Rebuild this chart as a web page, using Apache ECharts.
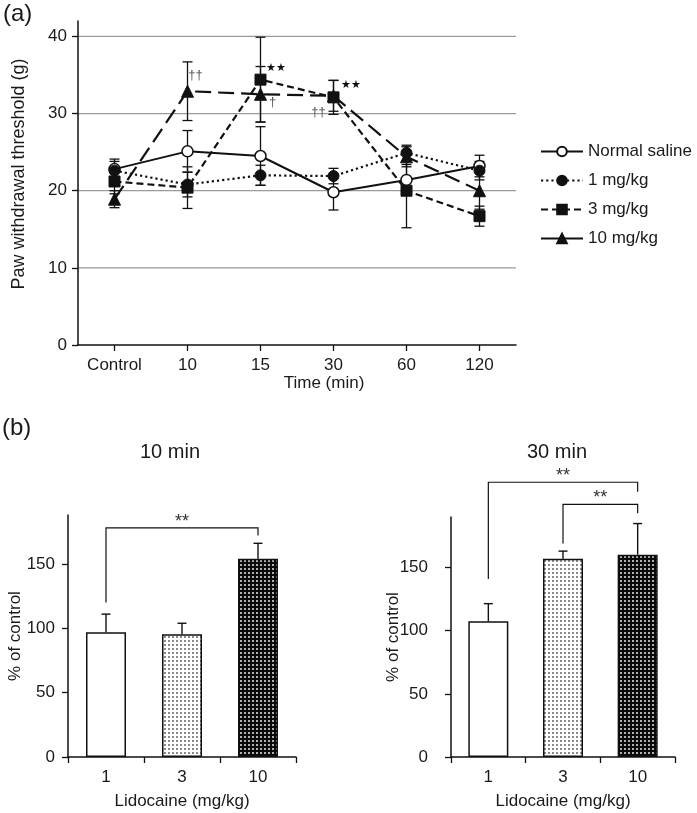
<!DOCTYPE html>
<html><head><meta charset="utf-8">
<script src="https://cdn.jsdelivr.net/npm/echarts@6/dist/echarts.min.js"></script>
<style>html,body{margin:0;padding:0;background:#fff}#c{width:697px;height:813px}</style>
</head><body><div id="c"></div>
<script>
// ---------- data (a) ----------
const timeCats = ['Control','10','15','30','60','120'];
const salineMean = [22.8, 25.1, 24.5, 19.8, 21.4, 23.2];
const salineErr  = [1.3, 2.7, 3.8, 2.3, 2.0, 1.4];
const mg1Mean = [22.6, 20.8, 22.0, 21.9, 24.9, 22.6];
const mg1Err  = [1.2, 1.6, 1.3, 1.0, 1.0, 1.2];
const mg3Mean = [21.2, 20.4, 34.4, 32.1, 20.0, 16.7];
const mg3Err  = [1.6, 2.7, 5.5, 2.2, 4.8, 1.3];
const mg10Mean = [18.9, 32.9, 32.5, 32.3, 24.4, 20.0];
const mg10Err  = [1.1, 3.8, 3.6, 2.0, 1.3, 2.4];
const yTicksA = [0, 10, 20, 30, 40];
const annotCats = ['10', '15', '15', '30', '30'];
const annotVals = [35.0, 35.9, 31.5, 30.2, 33.7];
const annotTexts = ['††', '★★', '†', '††', '★★'];

// ---------- data (b) ----------
const doseCats = ['1', '3', '10'];
const pct10Mean = [97, 95.3, 154];
const pct10Err  = [14, 8.6, 12];
const pct30Mean = [107.4, 157, 160.2];
const pct30Err  = [14, 6, 24.6];
const yTicksB = [0, 50, 100, 150];
// brackets: [fromIdx, toIdx, topValue, leftEndValue, rightEndValue]
const brackets10 = [[0, 2, 178, 120, 172]];
const brackets30 = [[0, 2, 217.5, 141, 210], [1, 2, 200, 169, 193]];

// ---------- styling helpers ----------
const FONT = 'Liberation Sans, Arial, sans-serif';
const TXT = '#1a1a1a';
function pattern(bg, dot) {
  const c = document.createElement('canvas'); c.width = 4; c.height = 4;
  const g = c.getContext('2d');
  g.fillStyle = bg; g.fillRect(0, 0, 4, 4);
  g.fillStyle = dot; g.fillRect(0, 0, 2, 2);
  return c;
}
const lightPat = { image: pattern('#ffffff', '#8a8a8a'), repeat: 'repeat' };
const darkPat = { image: pattern('#0a0a0a', '#b0b0b0'), repeat: 'repeat' };
const annotDx = [8, 15, 12, -15, 17];

const chart = echarts.init(document.getElementById('c'), null, { renderer: 'canvas' });

function errSeries(means, errs) {
  return {
    type: 'custom', xAxisIndex: 0, yAxisIndex: 0, z: 1, silent: true,
    data: means.map((m, i) => [i, m, errs[i]]),
    renderItem: function (params, api) {
      const x = api.value(0), m = api.value(1), e = api.value(2);
      const top = api.coord([x, m + e]), bot = api.coord([x, m - e]);
      const w = 5;
      return { type: 'group', children: [
        { type: 'line', shape: { x1: top[0], y1: top[1], x2: bot[0], y2: bot[1] }, style: { stroke: '#111', lineWidth: 1.3 } },
        { type: 'line', shape: { x1: top[0] - w, y1: top[1], x2: top[0] + w, y2: top[1] }, style: { stroke: '#111', lineWidth: 1.3 } },
        { type: 'line', shape: { x1: bot[0] - w, y1: bot[1], x2: bot[0] + w, y2: bot[1] }, style: { stroke: '#111', lineWidth: 1.3 } }
      ]};
    }
  };
}
function barErrSeries(gi, means, errs) {
  return {
    type: 'custom', xAxisIndex: gi, yAxisIndex: gi, z: 4, silent: true,
    data: means.map((m, i) => [i, m, errs[i]]),
    renderItem: function (params, api) {
      const x = api.value(0), m = api.value(1), e = api.value(2);
      const a = api.coord([x, m]), b = api.coord([x, m + e]);
      return { type: 'group', children: [
        { type: 'line', shape: { x1: a[0], y1: a[1], x2: b[0], y2: b[1] }, style: { stroke: '#111', lineWidth: 1.4 } },
        { type: 'line', shape: { x1: b[0] - 4.5, y1: b[1], x2: b[0] + 4.5, y2: b[1] }, style: { stroke: '#111', lineWidth: 1.4 } }
      ]};
    }
  };
}
function bracketSeries(gi, rows) {
  return {
    type: 'custom', xAxisIndex: gi, yAxisIndex: gi, z: 5, silent: true, clip: false,
    data: rows,
    renderItem: function (params, api) {
      const f = api.value(0), t = api.value(1), top = api.value(2), l = api.value(3), r = api.value(4);
      const p1 = api.coord([f, l]), p2 = api.coord([f, top]), p3 = api.coord([t, top]), p4 = api.coord([t, r]);
      return { type: 'group', children: [
        { type: 'polyline', shape: { points: [p1, p2, p3, p4] }, style: { stroke: '#111', lineWidth: 1.2, fill: null } },
        { type: 'text', x: (p2[0] + p3[0]) / 2, y: p2[1] - 6, style: { text: '**', fontSize: 18, fontFamily: FONT, fill: '#333', align: 'center', verticalAlign: 'middle' } }
      ]};
    }
  };
}
function barSeries(gi, means) {
  const fills = ['#ffffff', lightPat, darkPat];
  return {
    type: 'bar', xAxisIndex: gi, yAxisIndex: gi, barWidth: 40, z: 3, silent: true,
    data: means.map((m, i) => ({ value: m, itemStyle: { color: fills[i], borderColor: '#111', borderWidth: 1.5 } }))
  };
}
const axisLineStyle = { show: true, lineStyle: { color: '#111', width: 1.5 } };

const option = {
  animation: false,
  backgroundColor: '#fff',
  textStyle: { fontFamily: FONT, color: TXT },
  grid: [
    { left: 78, top: 21, width: 438, height: 324 },
    { left: 68, top: 515, width: 228, height: 242 },
    { left: 451, top: 517, width: 224, height: 240 }
  ],
  legend: {
    data: [
      { name: 'Normal saline' },
      { name: '1 mg/kg' },
      { name: '3 mg/kg' },
      { name: '10 mg/kg', lineStyle: { type: 'solid' } }
    ],
    orient: 'vertical', left: 540, top: 143, itemWidth: 42, itemHeight: 12, itemGap: 12,
    textStyle: { fontSize: 17, color: TXT, fontFamily: FONT }, padding: 0, selectedMode: false
  },
  xAxis: [
    { gridIndex: 0, type: 'category', data: timeCats, boundaryGap: true,
      axisLine: axisLineStyle, axisTick: { show: true, alignWithLabel: true, length: 6, lineStyle: { color: '#111', width: 1.3 } },
      axisLabel: { fontSize: 17, color: TXT, margin: 12 }, splitLine: { show: false } },
    { gridIndex: 1, type: 'category', data: doseCats, boundaryGap: true,
      axisLine: axisLineStyle, axisTick: { show: true, length: 6, lineStyle: { color: '#111', width: 1.3 } },
      axisLabel: { fontSize: 17, color: TXT, margin: 12 },
      name: 'Lidocaine (mg/kg)', nameLocation: 'middle', nameGap: 36, nameTextStyle: { fontSize: 17, color: TXT } },
    { gridIndex: 2, type: 'category', data: doseCats, boundaryGap: true,
      axisLine: axisLineStyle, axisTick: { show: true, length: 6, lineStyle: { color: '#111', width: 1.3 } },
      axisLabel: { fontSize: 17, color: TXT, margin: 12 },
      name: 'Lidocaine (mg/kg)', nameLocation: 'middle', nameGap: 36, nameTextStyle: { fontSize: 17, color: TXT } }
  ],
  yAxis: [
    { gridIndex: 0, type: 'value', min: 0, max: 42,
      axisLine: axisLineStyle, axisTick: { show: true, length: 6, customValues: yTicksA, lineStyle: { color: '#111', width: 1.3 } },
      axisLabel: { fontSize: 17, color: TXT, margin: 11, customValues: yTicksA }, splitLine: { show: false },
      name: 'Paw withdrawal threshold (g)', nameLocation: 'middle', nameGap: 50, nameTextStyle: { fontSize: 18, color: TXT, padding: [0, 0, 0, 18] } },
    { gridIndex: 1, type: 'value', min: 0, max: 188,
      axisLine: axisLineStyle, axisTick: { show: true, length: 6, customValues: yTicksB, lineStyle: { color: '#111', width: 1.3 } },
      axisLabel: { fontSize: 17, color: TXT, margin: 13, customValues: yTicksB }, splitLine: { show: false },
      name: '% of control', nameLocation: 'middle', nameGap: 44, nameMoveOverlap: false, nameTextStyle: { fontSize: 17, color: TXT } },
    { gridIndex: 2, type: 'value', min: 0, max: 190,
      axisLine: axisLineStyle, axisTick: { show: true, length: 6, customValues: yTicksB, lineStyle: { color: '#111', width: 1.3 } },
      axisLabel: { fontSize: 17, color: TXT, margin: 23, customValues: yTicksB }, splitLine: { show: false },
      name: '% of control', nameLocation: 'middle', nameGap: 49, nameMoveOverlap: false, nameTextStyle: { fontSize: 17, color: TXT } }
  ],
  graphic: [
    { type: 'text', left: 3, top: 2, style: { text: '(a)', fontSize: 24, fontFamily: FONT, fill: TXT } },
    { type: 'text', left: 2, top: 416, style: { text: '(b)', fontSize: 24, fontFamily: FONT, fill: TXT } },
    { type: 'text', x: 170, y: 452, style: { text: '10 min', fontSize: 20, fontFamily: FONT, fill: TXT, align: 'center', verticalAlign: 'middle' } },
    { type: 'text', x: 557, y: 452, style: { text: '30 min', fontSize: 20, fontFamily: FONT, fill: TXT, align: 'center', verticalAlign: 'middle' } },
    { type: 'text', x: 324, y: 383, style: { text: 'Time (min)', fontSize: 17, fontFamily: FONT, fill: TXT, align: 'center', verticalAlign: 'middle' } }
  ],
  series: [
    // gridlines for (a)
    { type: 'custom', xAxisIndex: 0, yAxisIndex: 0, z: 0, silent: true,
      data: yTicksA.filter(v => v > 0).map(v => [0, v]),
      renderItem: function (params, api) {
        const cs = params.coordSys; const p = api.coord([0, api.value(1)]);
        return { type: 'line', shape: { x1: cs.x, y1: p[1], x2: cs.x + cs.width, y2: p[1] }, style: { stroke: '#9a9a9a', lineWidth: 1.3 } };
      } },
    errSeries(salineMean, salineErr),
    errSeries(mg1Mean, mg1Err),
    errSeries(mg3Mean, mg3Err),
    errSeries(mg10Mean, mg10Err),
    { name: 'Normal saline', type: 'line', xAxisIndex: 0, yAxisIndex: 0, data: salineMean, z: 3,
      symbol: 'circle', symbolSize: 11, itemStyle: { color: '#fff', borderColor: '#111', borderWidth: 1.5 },
      lineStyle: { color: '#111', width: 2, type: 'solid' } },
    { name: '1 mg/kg', type: 'line', xAxisIndex: 0, yAxisIndex: 0, data: mg1Mean, z: 3,
      symbol: 'circle', symbolSize: 11, itemStyle: { color: '#111', borderColor: '#111', borderWidth: 1 },
      lineStyle: { color: '#111', width: 2.2, type: [2.2, 3] } },
    { name: '3 mg/kg', type: 'line', xAxisIndex: 0, yAxisIndex: 0, data: mg3Mean, z: 3,
      symbol: 'rect', symbolSize: 11, itemStyle: { color: '#111', borderColor: '#111', borderWidth: 1 },
      lineStyle: { color: '#111', width: 2.2, type: [7, 4] } },
    { name: '10 mg/kg', type: 'line', xAxisIndex: 0, yAxisIndex: 0, data: mg10Mean, z: 3,
      symbol: 'triangle', symbolSize: 12, itemStyle: { color: '#111', borderColor: '#111', borderWidth: 1 },
      lineStyle: { color: '#111', width: 2.2, type: [16, 7] } },
    // annotations (a)
    { type: 'custom', xAxisIndex: 0, yAxisIndex: 0, z: 6, silent: true, clip: false,
      data: annotCats.map((c, i) => [timeCats.indexOf(c), annotVals[i]]),
      renderItem: function (params, api) {
        const p = api.coord([api.value(0), api.value(1)]);
        const t = annotTexts[params.dataIndex];
        const dagger = t.indexOf('†') >= 0;
        return { type: 'text', x: p[0] + annotDx[params.dataIndex], y: p[1],
          style: { text: t, fontSize: dagger ? 13 : 11, fontFamily: FONT, fill: dagger ? '#555' : '#111', align: 'center', verticalAlign: 'middle' } };
      } },
    barSeries(1, pct10Mean), barErrSeries(1, pct10Mean, pct10Err), bracketSeries(1, brackets10),
    barSeries(2, pct30Mean), barErrSeries(2, pct30Mean, pct30Err), bracketSeries(2, brackets30)
  ]
};
chart.setOption(option);
</script></body></html>
